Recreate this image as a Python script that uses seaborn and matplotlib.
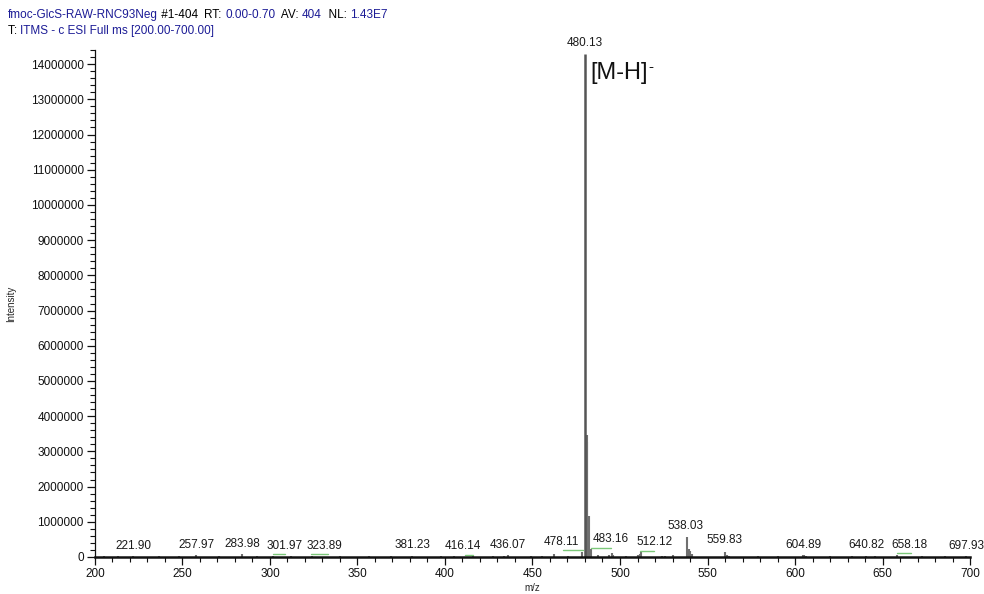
import matplotlib
matplotlib.use("Agg")
import matplotlib.pyplot as plt
from matplotlib.ticker import MultipleLocator, StrMethodFormatter
import seaborn as sns
import pandas as pd

# ----------------- data -----------------
# peaks: m/z and intensity (counts)
peak_mz = [205.4, 213.1, 221.90, 236.5, 248.2, 257.97, 270.6, 283.98, 292.4,
           301.97, 311.8, 323.89, 340.2, 356.7, 369.1, 381.23, 397.8, 405.2,
           416.14, 427.3, 433.6, 436.07, 448.9, 455.2, 462.3, 470.1, 478.11,
           480.13, 480.9, 481.4, 482.1, 483.16, 487.4, 493.9, 495.2, 496.1,
           503.5, 510.0, 511.4, 512.12, 523.8, 525.7, 530.3, 538.03, 538.9,
           539.4, 540.2, 541.1, 559.83, 560.9, 562.0, 578.6, 590.1, 604.4,
           604.89, 606.3, 620.2, 632.5, 640.82, 645.7, 658.18, 672.4, 685.9,
           697.93]
peak_int = [20000, 25000, 30000, 20000, 25000, 50000, 25000, 90000, 20000,
            30000, 25000, 35000, 20000, 25000, 20000, 40000, 25000, 30000,
            35000, 25000, 40000, 60000, 40000, 30000, 80000, 40000, 150000,
            14300000, 3470000, 3280000, 1170000, 230000, 50000, 60000, 120000, 60000,
            30000, 60000, 80000, 140000, 40000, 40000, 50000, 580000, 130000,
            230000, 180000, 80000, 150000, 60000, 40000, 30000, 25000, 50000,
            60000, 40000, 25000, 20000, 40000, 25000, 60000, 20000, 25000,
            15000]

# labelled peaks: label text, label x position (m/z), peak height under label
label_text = ["221.90", "257.97", "283.98", "301.97", "323.89", "381.23", "416.14",
              "436.07", "478.11", "480.13", "483.16", "512.12", "538.03", "559.83",
              "604.89", "640.82", "658.18", "697.93"]
label_x = [221.9, 257.97, 283.98, 308.5, 331.2, 381.23, 410.5,
           436.07, 466.5, 480.13, 494.5, 520.0, 537.5, 559.83,
           604.89, 640.82, 665.5, 697.93]
label_y = [30000, 50000, 90000, 30000, 35000, 40000, 35000,
           60000, 150000, 14300000, 230000, 140000, 580000, 200000,
           60000, 40000, 60000, 15000]

# green marker segments under some labels: start m/z, end m/z, intensity
green_x0 = [301.9, 323.4, 411.4, 467.3, 483.2, 511.6, 658.0]
green_x1 = [308.6, 333.1, 416.2, 478.7, 494.7, 519.6, 666.0]
green_y = [85000, 85000, 57000, 200000, 260000, 170000, 110000]

spec = pd.DataFrame({"mz": peak_mz, "intensity": peak_int})

# ----------------- figure -----------------
sns.set_theme(style="ticks")
plt.rcParams["font.family"] = ["Liberation Sans", "DejaVu Sans"]

fig = plt.figure(figsize=(9.84, 5.94), dpi=100)
ax = fig.add_axes([0.0965, 0.0623, 0.8893, 0.8535])

# stick spectrum
main = spec["intensity"] > 5e6
ax.vlines(spec.loc[~main, "mz"], 0, spec.loc[~main, "intensity"], color="#707070", lw=1.5)
ax.vlines(spec.loc[main, "mz"], 0, spec.loc[main, "intensity"], color="#555555", lw=1.8)

for x0, x1, y in zip(green_x0, green_x1, green_y):
    ax.plot([x0, x1], [y, y], color="#7cc87a", lw=1.0)

for t, x, y in zip(label_text, label_x, label_y):
    ax.annotate(t, (x, y), xytext=(0, 3), textcoords="offset points",
                ha="center", va="bottom", fontsize=8.5, color="#1a1a1a",
                annotation_clip=False)

# axes styling
ax.set_xlim(200, 700)
ax.set_ylim(0, 14.4e6)
ax.xaxis.set_major_locator(MultipleLocator(50))
ax.xaxis.set_minor_locator(MultipleLocator(10))
ax.yaxis.set_major_locator(MultipleLocator(1000000))
ax.yaxis.set_minor_locator(MultipleLocator(200000))
ax.yaxis.set_major_formatter(StrMethodFormatter("{x:.0f}"))
ax.tick_params(which="major", direction="out", length=6, width=0.9, labelsize=8.5,
               colors="#111111", pad=2)
ax.tick_params(which="minor", direction="out", length=3.5, width=0.8, colors="#111111")
sns.despine(ax=ax)
ax.spines["left"].set_linewidth(0.9)
ax.spines["bottom"].set_linewidth(1.8)
ax.spines["left"].set_color("#111111")
ax.spines["bottom"].set_color("#111111")
ax.set_xlabel("m/z", fontsize=7, labelpad=2)
ax.set_ylabel("Intensity", fontsize=7)
ax.yaxis.set_label_coords(-0.09, 0.5)

# ion annotation with a small superscript hyphen
renderer = fig.canvas.get_renderer()
ion = ax.text(482.9, 13.75e6, "[M-H]", fontsize=17, va="center", ha="left", color="#111111")
ion_box = ion.get_window_extent(renderer)
fig.text((ion_box.x1 + 1) / 984, (ion_box.y1 - 5) / 594, "-", fontsize=11,
         va="center", ha="left", color="#111111")

# header lines: (text, colour) pieces
navy = "#1c1c96"
header1 = [("fmoc-GlcS-RAW-RNC93Neg", navy), (" #1-404  ", "black"), ("RT: ", "black"),
           ("0.00-0.70", navy), ("  AV: ", "black"), ("404", navy), ("  NL: ", "black"),
           ("1.43E7", navy)]
header2 = [("T: ", "black"), ("ITMS - c ESI Full ms [200.00-700.00]", navy)]

for pieces, ypx in [(header1, 15), (header2, 31)]:
    xpx = 8
    for txt, col in pieces:
        t = fig.text(xpx / 984, 1 - ypx / 594, txt, fontsize=8.5, color=col, va="center", ha="left")
        xpx += t.get_window_extent(renderer).width

fig.savefig("out.png", dpi=100)
